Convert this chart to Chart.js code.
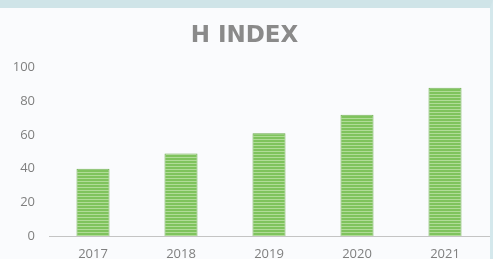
<!DOCTYPE html>
<html>
<head>
<meta charset="utf-8">
<script src="https://cdn.jsdelivr.net/npm/chart.js@4"></script>
<style>
  html, body { margin: 0; padding: 0; background: #fafbfd; overflow: hidden; }
  #frame {
    width: 493px; height: 259px; box-sizing: border-box;
    border-top: 8px solid #cfe4e8; border-right: 3px solid #d4e8ec;
    overflow: hidden; background: #fafbfd;
  }
  #box { position: relative; width: 490px; height: 264px; }
</style>
</head>
<body>
<div id="frame"><div id="box"><canvas id="grafica"></canvas></div></div>
<script>
const years = ['2017', '2018', '2019', '2020', '2021'];
const hIndex = [40, 49, 61, 72, 88];
const yTicks = [0, 20, 40, 60, 80, 100];

const graph = document.querySelector('#grafica');

// striped green fill like the original
const make_stripes = () => {
    const c = document.createElement('canvas');
    c.width = 4;
    c.height = 3;
    const ctx = c.getContext('2d');
    ctx.fillStyle = '#7fc35d';
    ctx.fillRect(0, 0, 4, 3);
    ctx.fillStyle = '#b0dc97';
    ctx.fillRect(0, 2, 4, 1);
    return ctx.createPattern(c, 'repeat');
}

const data = {
    labels: years,
    datasets: [{
        data: hIndex,
        backgroundColor: make_stripes(),
        borderColor: '#69ab49',
        borderWidth: 1,
        barPercentage: 0.375,
        categoryPercentage: 1,
    }]
};

const config = {
    type: 'bar',
    data: data,
    options: {
        responsive: true,
        maintainAspectRatio: false,
        animation: false,
        layout: { padding: { left: 0, right: 1, top: 0, bottom: 0 } },
        plugins: {
            legend: { display: false },
            tooltip: { enabled: false },
            title: {
                display: true,
                text: 'H INDEX',
                color: '#8a8a8a',
                font: { family: 'DejaVu Sans', size: 23, weight: 'bold' },
                padding: { top: 14, bottom: 18 },
            },
        },
        scales: {
            x: {
                grid: { display: false, drawTicks: false },
                border: { display: true, color: '#c4c4c4', width: 1 },
                ticks: {
                    color: '#7f7f7f',
                    font: { family: 'Open Sans', size: 13 },
                    padding: 10,
                },
                afterFit: (scale) => { scale.height = 36; },
            },
            y: {
                min: 0,
                max: 100,
                afterBuildTicks: (scale) => { scale.ticks = yTicks.map(v => ({ value: v })); },
                grid: { display: false, drawTicks: false },
                border: { display: false },
                ticks: {
                    color: '#7f7f7f',
                    font: { family: 'Open Sans', size: 13 },
                    padding: 14,
                },
                afterFit: (scale) => { scale.width = 49; },
            },
        },
    },
};

const myChart = new Chart(graph, config);
</script>
</body>
</html>
